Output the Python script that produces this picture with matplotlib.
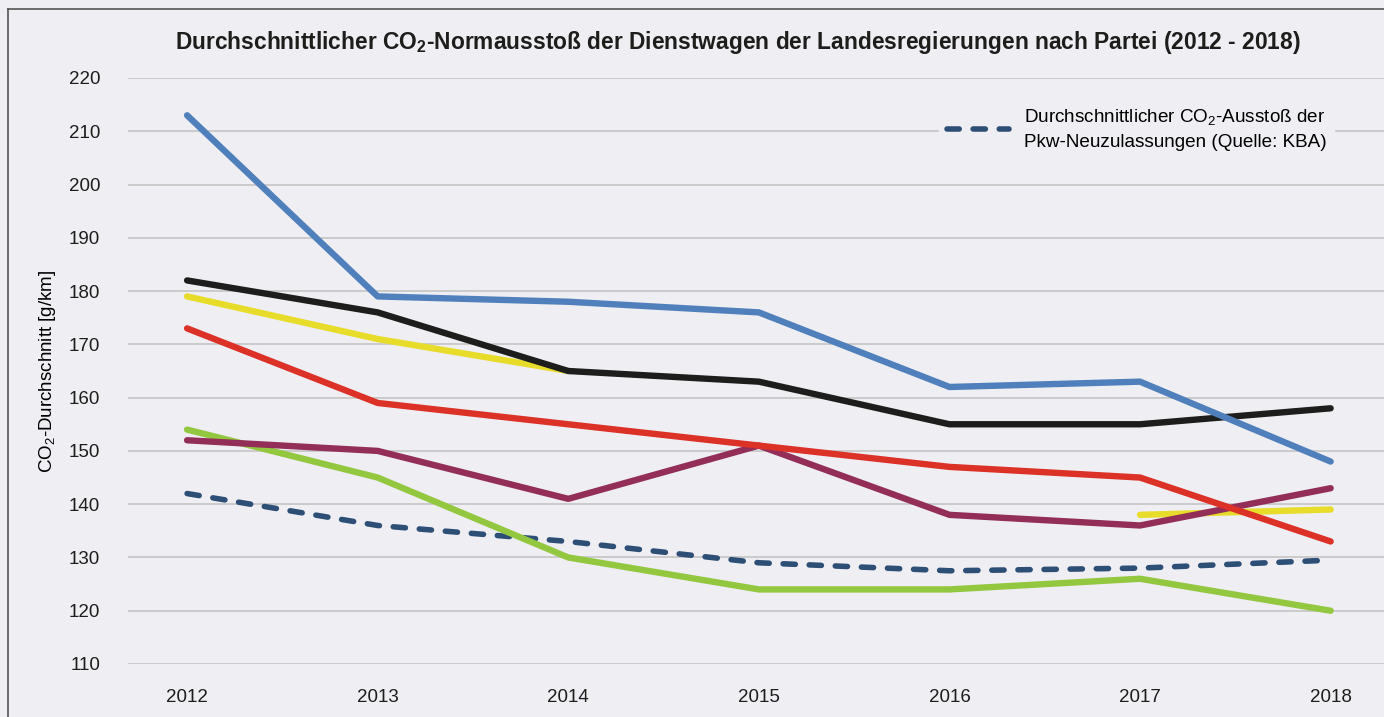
import numpy as np
import matplotlib
matplotlib.use('Agg')
import matplotlib.pyplot as plt
from matplotlib.lines import Line2D

plt.rcParams['font.family'] = ['Liberation Sans', 'DejaVu Sans']
plt.rcParams['mathtext.default'] = 'regular'

years = [2012, 2013, 2014, 2015, 2016, 2017, 2018]
blau = [213, 179, 178, 176, 162, 163, 148]
schwarz = [182, 176, 165, 163, 155, 155, 158]
gelb = [179, 171, 165, np.nan, np.nan, 138, 139]
rot = [173, 159, 155, 151, 147, 145, 133]
lila = [152, 150, 141, 151, 138, 136, 143]
gruen = [154, 145, 130, 124, 124, 126, 120]
kba = [142, 136, 133, 129, 127.5, 128, 129.5]

bg = '#efeef3'
fig = plt.figure(figsize=(13.84, 7.17), dpi=100, facecolor=bg)
ax = fig.add_axes([128/1384, 1-664/717, 1-128/1384, (664-78)/717])
ax.set_facecolor(bg)

lw = 4.6
ax.plot(years, kba, color='#2d4e75', lw=4, dashes=(2.2, 2.5),
        dash_capstyle='round', label='Durchschnittlicher CO$_2$-Ausstoß der\nPkw-Neuzulassungen (Quelle: KBA)', zorder=3)
ax.plot(years, gruen, color='#94c740', lw=lw, solid_capstyle='round', zorder=3)
ax.plot(years, gelb, color='#e8dc2a', lw=lw, solid_capstyle='round', zorder=3)
ax.plot(years, lila, color='#922e57', lw=lw, solid_capstyle='round', zorder=3)
ax.plot(years, rot, color='#dc3127', lw=lw, solid_capstyle='round', zorder=3)
ax.plot(years, schwarz, color='#1d1d1b', lw=lw, solid_capstyle='round', zorder=3)
ax.plot(years, blau, color='#5080bb', lw=lw, solid_capstyle='round', zorder=3)

ax.set_xlim(2011.69, 2018.28)
ax.set_ylim(110, 220)
ax.set_yticks(range(110, 221, 10))
ax.set_xticks(years)
ax.grid(axis='y', color='#c8c8c8', lw=1.3)
ax.set_axisbelow(True)
for s in ax.spines.values():
    s.set_visible(False)
ax.tick_params(length=0, labelsize=13.5, colors='#1d1d1b')
ax.tick_params(axis='x', pad=18)
ax.tick_params(axis='y', pad=20)
ax.set_ylabel('CO$_2$-Durchschnitt [g/km]', fontsize=13.5, labelpad=8)

leg = ax.legend(loc='upper right', bbox_to_anchor=(0.968, 0.98), frameon=True,
                facecolor=bg, edgecolor=bg, framealpha=1, fontsize=13.6,
                handlelength=3.3, handletextpad=0.8)
leg.get_texts()[0].set_linespacing(1.55)

fig.text(0.533, 1-42/717, 'Durchschnittlicher CO$_2$-Normausstoß der Dienstwagen der Landesregierungen nach Partei (2012 - 2018)',
         ha='center', va='center', fontsize=16.4, fontweight='bold', color='#1d1d1b')

# Rahmen
fig.add_artist(Line2D([8/1384, 8/1384], [0, 1-9/717], color='#555555', lw=1.2))
fig.add_artist(Line2D([8/1384, 1], [1-9/717, 1-9/717], color='#555555', lw=1.2))

fig.savefig('out.png', dpi=100, facecolor=bg)
